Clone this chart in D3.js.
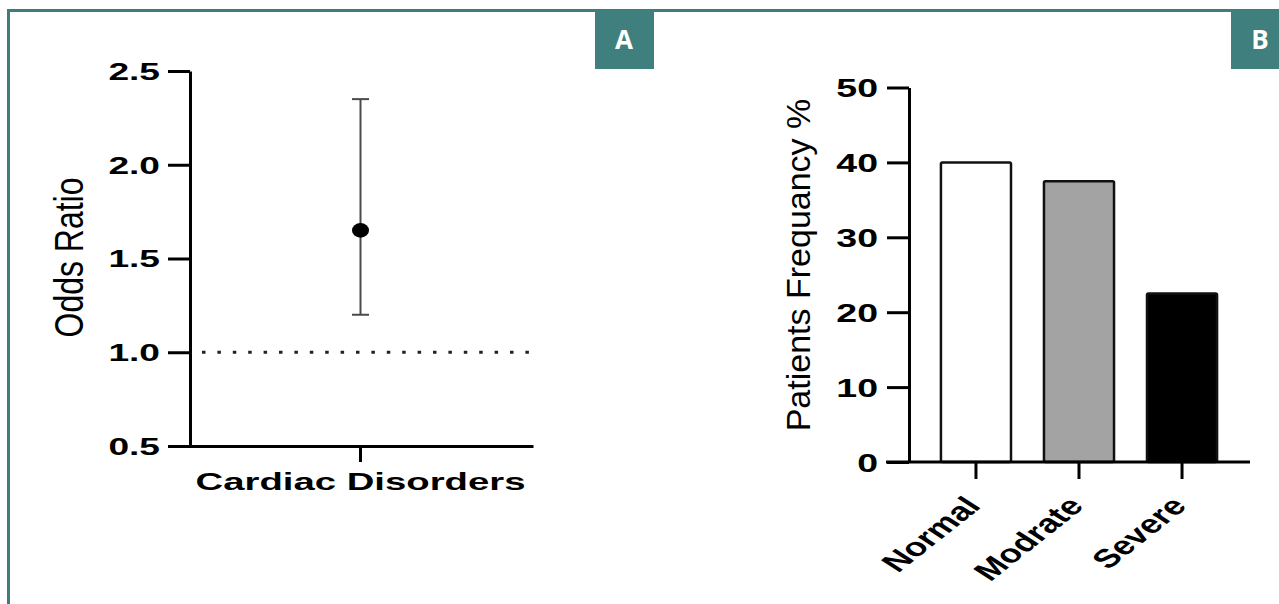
<!DOCTYPE html>
<html>
<head>
<meta charset="utf-8">
<script src="https://cdn.jsdelivr.net/npm/d3@7"></script>
<style>
  body { margin: 0; background: #fff; }
  svg { display: block; }
</style>
</head>
<body>
<div id="chart"></div>
<script>
// panel A - odds ratio with 95% CI
var orLabel = ["Cardiac Disorders"];
var orValue = [1.65];
var orLow = [1.2];
var orHigh = [2.35];
var orTicks = [0.5, 1.0, 1.5, 2.0, 2.5];
var refLine = 1.0;

// panel B - patients by severity
var severity = ["Normal", "Modrate", "Severe"];
var frequency = [40, 37.5, 22.5];
var freqTicks = [0, 10, 20, 30, 40, 50];
var barFill = ["#ffffff", "#a3a3a3", "#000000"];

var W = 1279, H = 604;
var teal = "#3e7d7b";
var font = "'Liberation Sans', Arial, Helvetica, sans-serif";
var sx = 1.58; // the published figure is stretched sideways

var svg = d3.select("#chart").append("svg")
    .attr("width", W).attr("height", H)
    .style("font-family", font);
svg.append("rect").attr("width", W).attr("height", H).attr("fill", "#fff");

// frame round the figure
svg.append("path")
    .attr("d", "M8.5,604 V10.5 H1279")
    .attr("fill", "none").attr("stroke", teal).attr("stroke-width", 3);

// corner tags
var tags = [{t: "A", x: 595, w: 59}, {t: "B", x: 1231, w: 48}];
tags.forEach(function(d) {
  svg.append("rect").attr("x", d.x).attr("y", 10).attr("width", d.w).attr("height", 59).attr("fill", "#3f7f7d");
  svg.append("text").attr("x", d.x + 29).attr("y", 49)
    .attr("text-anchor", "middle").attr("fill", "#fff")
    .attr("font-family", "'Open Sans', sans-serif").attr("font-weight", "bold").attr("font-size", 26)
    .text(d.t);
});

function styleAxis(g) {
  g.select(".domain").attr("stroke", "#000").attr("stroke-width", 3);
  g.selectAll(".tick line").attr("stroke", "#000").attr("stroke-width", 3);
  g.selectAll("text").attr("fill", "#000").attr("font-family", font).attr("font-weight", "bold");
}

// ---------- panel A ----------
var a = svg.append("g");
var yA = d3.scaleLinear().domain([0.5, 2.5]).range([446, 71]);
var xA = d3.scaleBand().domain(orLabel).range([188, 533]);

var gyA = a.append("g").attr("transform", "translate(190,0)")
  .call(d3.axisLeft(yA).tickValues(orTicks).tickFormat(d3.format(".1f")).tickSize(22).tickSizeOuter(0));
styleAxis(gyA);
gyA.selectAll("text").attr("font-size", 23.5)
  .attr("transform", "scale(" + sx + ",1)").attr("x", -30 / sx).attr("dy", "0.36em");

var gxA = a.append("g").attr("transform", "translate(0,446)")
  .call(d3.axisBottom(xA).tickSize(16).tickSizeOuter(0));
styleAxis(gxA);
gxA.selectAll("text").attr("font-size", 23.5)
  .attr("transform", "scale(1.63,1)").attr("y", 44).attr("dy", 0);

// reference line at OR = 1
a.append("line")
  .attr("x1", 202).attr("x2", 531)
  .attr("y1", yA(refLine)).attr("y2", yA(refLine))
  .attr("stroke", "#222").attr("stroke-width", 3.2).attr("stroke-dasharray", "3.5 11.9");

var cx = function(d) { return xA(d) + xA.bandwidth() / 2; };
var ci = a.append("g").selectAll("g").data(orLabel).join("g");
ci.append("line")
  .attr("x1", cx).attr("x2", cx)
  .attr("y1", function(d, i) { return yA(orLow[i]); })
  .attr("y2", function(d, i) { return yA(orHigh[i]); })
  .attr("stroke", "#4a4a4a").attr("stroke-width", 2);
[orLow, orHigh].forEach(function(arr) {
  ci.append("line")
    .attr("x1", function(d) { return cx(d) - 8.5; }).attr("x2", function(d) { return cx(d) + 8.5; })
    .attr("y1", function(d, i) { return yA(arr[i]); }).attr("y2", function(d, i) { return yA(arr[i]); })
    .attr("stroke", "#4a4a4a").attr("stroke-width", 2);
});
ci.append("ellipse")
  .attr("cx", cx).attr("cy", function(d, i) { return yA(orValue[i]); })
  .attr("rx", 8.5).attr("ry", 7.3).attr("fill", "#000");

a.append("text")
  .attr("transform", "translate(83,257.5) scale(1.26,1) rotate(-90)")
  .attr("text-anchor", "middle").attr("font-size", 32).attr("fill", "#000")
  .text("Odds Ratio");

// ---------- panel B ----------
var b = svg.append("g");
var yB = d3.scaleLinear().domain([0, 50]).range([462, 87.5]);
var xB = d3.scaleBand().domain(severity).range([909, 1249]).paddingInner(0.32).paddingOuter(0.31);

b.append("g").selectAll("rect").data(severity).join("rect")
  .attr("x", function(d) { return xB(d); })
  .attr("y", function(d, i) { return yB(frequency[i]); })
  .attr("width", xB.bandwidth())
  .attr("height", function(d, i) { return yB(0) - yB(frequency[i]); })
  .attr("rx", 1.5)
  .attr("fill", function(d, i) { return barFill[i]; })
  .attr("stroke", "#111").attr("stroke-width", 2.5);

var gyB = b.append("g").attr("transform", "translate(909,0)")
  .call(d3.axisLeft(yB).tickValues(freqTicks).tickSize(22).tickSizeOuter(0));
styleAxis(gyB);
gyB.selectAll("text").attr("font-size", 25)
  .attr("transform", "scale(1.5,1)").attr("x", -31 / 1.5).attr("dy", "0.36em");

var gxB = b.append("g").attr("transform", "translate(0,462)")
  .call(d3.axisBottom(xB).tickSize(17).tickSizeOuter(0));
styleAxis(gxB);
gxB.select(".domain").attr("d", "M886,0H1250");
gxB.selectAll("text").attr("font-size", 26).attr("text-anchor", "end")
  .attr("x", 0).attr("y", 0).attr("dy", 0)
  .attr("transform", "translate(6,45) scale(1.4,1) rotate(-48)");

b.append("text")
  .attr("transform", "translate(810,265) rotate(-90)")
  .attr("text-anchor", "middle").attr("font-size", 34).attr("fill", "#000")
  .text("Patients Frequancy %");
</script>
</body>
</html>
